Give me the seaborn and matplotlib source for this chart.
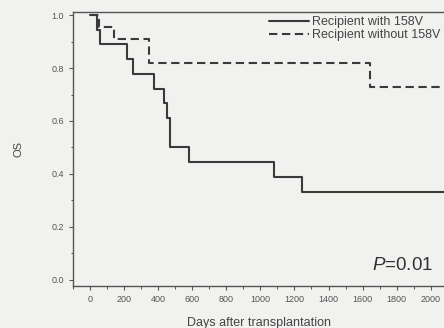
import numpy as np
import pandas as pd
import matplotlib
matplotlib.use("Agg")
import matplotlib.pyplot as plt
import seaborn as sns
from matplotlib.ticker import MultipleLocator

# Data
with_days = [0, 41, 59, 218, 253, 376, 435, 453, 470, 582, 1082, 1247, 2200]
with_os = [1.0, 0.944, 0.889, 0.833, 0.778, 0.722, 0.667, 0.611, 0.5, 0.444, 0.389, 0.333, 0.333]
without_days = [0, 53, 141, 347, 1641, 2200]
without_os = [1.0, 0.955, 0.909, 0.818, 0.727, 0.727]
labels = ["Recipient with 158V", "Recipient without 158V"]
x_ticks = [0, 200, 400, 600, 800, 1000, 1200, 1400, 1600, 1800, 2000]
y_ticks = [0.0, 0.2, 0.4, 0.6, 0.8, 1.0]

df = pd.concat([
    pd.DataFrame({"days": with_days, "os": with_os, "group": labels[0]}),
    pd.DataFrame({"days": without_days, "os": without_os, "group": labels[1]}),
])

sns.set_style("ticks")
plt.rcParams['font.family'] = ['Liberation Sans', 'DejaVu Sans']
plt.rcParams['mathtext.fontset'] = 'custom'
plt.rcParams['mathtext.rm'] = 'Liberation Sans'
plt.rcParams['mathtext.it'] = 'Liberation Sans:italic'
bg = "#f1f1ef"
fig = plt.figure(figsize=(4.44, 3.28), dpi=100, facecolor=bg)
ax = fig.add_axes([0.164, 0.128, 0.84, 0.835])
ax.set_facecolor(bg)

line_color = "#3a3a3a"
sns.lineplot(data=df, x="days", y="os", hue="group", style="group",
             palette=[line_color, line_color], dashes=[(None, None), (4, 2.2)],
             drawstyle="steps-post", linewidth=1.5, ax=ax, legend=True,
             estimator=None, sort=False)

ax.set_xlim(-100, 2088)
ax.set_ylim(-0.023, 1.011)
ax.set_xticks(x_ticks)
ax.set_xticklabels([str(t) for t in x_ticks])
ax.set_yticks(y_ticks)
ax.set_yticklabels([f"{t:.1f}" for t in y_ticks])
ax.xaxis.set_minor_locator(MultipleLocator(100))
ax.yaxis.set_minor_locator(MultipleLocator(0.1))
ax.tick_params(axis="both", which="major", direction="out", length=3, width=0.8,
               colors="#555555", labelsize=6.5, labelcolor="#555555")
ax.tick_params(axis="both", which="minor", direction="out", length=1.8, width=0.7, colors="#555555")
for s in ["left", "bottom", "top"]:
    ax.spines[s].set_color("#555555")
    ax.spines[s].set_linewidth(1.0)
ax.spines["right"].set_visible(False)

ax.set_xlabel("Days after transplantation", fontsize=9, color="#444444", labelpad=9)
ax.set_ylabel("OS", fontsize=8, color="#444444", labelpad=20)

ax.text(0.966, 0.045, r"$\mathit{P}$=0.01", transform=ax.transAxes, fontsize=13.5,
        color="#333333", ha="right", va="bottom")

leg = ax.legend(loc="upper right", bbox_to_anchor=(1.005, 1.012), frameon=False,
                fontsize=9, handlelength=3.2, handletextpad=0.2, labelspacing=0.05,
                borderaxespad=0.2)
for t in leg.get_texts():
    t.set_color("#444444")

fig.savefig("out.png", dpi=100, facecolor=bg)
